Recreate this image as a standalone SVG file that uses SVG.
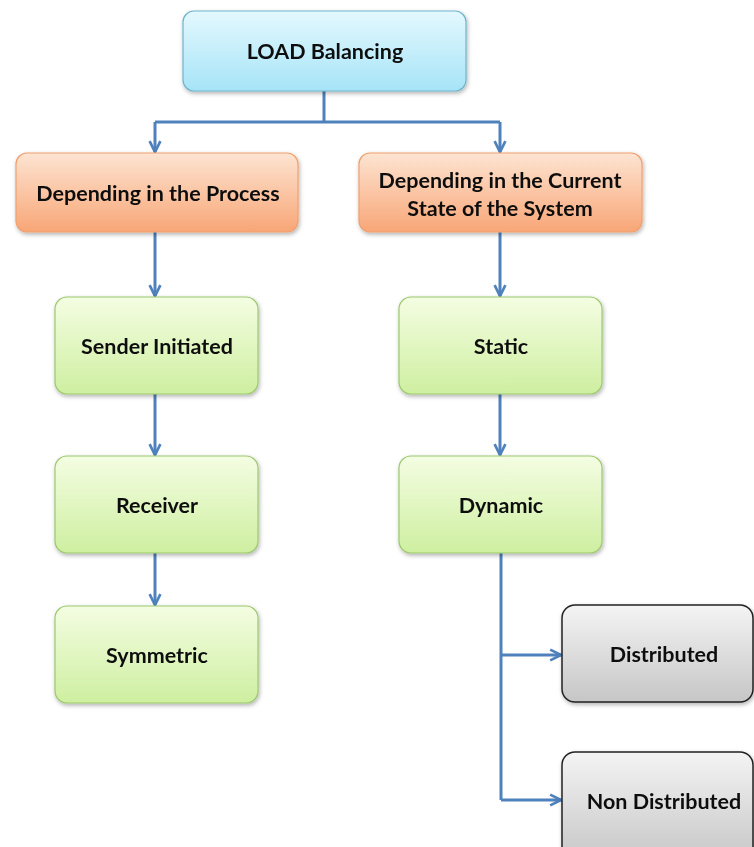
<svg xmlns="http://www.w3.org/2000/svg" width="754" height="847" viewBox="0 0 754 847">
<defs>
<style>
.t{font-family:Lato,"Open Sans","Liberation Sans",sans-serif;font-weight:bold;font-size:21.5px;fill:#111;text-anchor:middle;dominant-baseline:central}
.c{fill:none;stroke:#4f81bd;stroke-width:3}
</style>
<linearGradient id="gb" x1="0" y1="0" x2="0" y2="1"><stop offset="0" stop-color="#e4f8fe"/><stop offset="1" stop-color="#a6e4f7"/></linearGradient>
<linearGradient id="go" x1="0" y1="0" x2="0" y2="1"><stop offset="0" stop-color="#fde4d2"/><stop offset="1" stop-color="#f8a676"/></linearGradient>
<linearGradient id="gg" x1="0" y1="0" x2="0" y2="1"><stop offset="0" stop-color="#f4fde2"/><stop offset="1" stop-color="#ceefa0"/></linearGradient>
<linearGradient id="gy" x1="0" y1="0" x2="0" y2="1"><stop offset="0" stop-color="#f4f4f4"/><stop offset="1" stop-color="#c6c6c6"/></linearGradient>
<filter id="sh" x="-10%" y="-10%" width="130%" height="140%"><feDropShadow dx="1" dy="2" stdDeviation="2" flood-color="#000" flood-opacity="0.3"/></filter>
<marker id="ah" viewBox="0 0 10 10" refX="9" refY="5" markerWidth="4.5" markerHeight="4.5" orient="auto" markerUnits="strokeWidth"><path d="M1,1 L9,5 L1,9" fill="none" stroke="#4f81bd" stroke-width="2"/></marker>
</defs>
<g id="connectors">
<path class="c" d="M324,91 V122"/>
<path class="c" d="M155,122 H500"/>
<path class="c" d="M155,122 V152" marker-end="url(#ah)"/>
<path class="c" d="M500,122 V152" marker-end="url(#ah)"/>
<path class="c" d="M155,232 V296" marker-end="url(#ah)"/>
<path class="c" d="M500,232 V296" marker-end="url(#ah)"/>
<path class="c" d="M155,394 V455" marker-end="url(#ah)"/>
<path class="c" d="M500,394 V455" marker-end="url(#ah)"/>
<path class="c" d="M155,553 V605" marker-end="url(#ah)"/>
<path class="c" d="M501,553 V800"/>
<path class="c" d="M501,655 H561" marker-end="url(#ah)"/>
<path class="c" d="M501,800 H561" marker-end="url(#ah)"/>
</g>
<g id="n-load" filter="url(#sh)"><rect x="183" y="11" width="283" height="80" rx="11" fill="url(#gb)" stroke="#6fb5cc" stroke-width="1.2"/><text class="t" x="325" y="51">LOAD Balancing</text></g>
<g id="n-process" filter="url(#sh)"><rect x="16" y="153" width="282" height="79" rx="11" fill="url(#go)" stroke="#f0a06e" stroke-width="1.2"/><text class="t" x="158" y="193">Depending in the Process</text></g>
<g id="n-state" filter="url(#sh)"><rect x="359" y="153" width="283" height="79" rx="11" fill="url(#go)" stroke="#f0a06e" stroke-width="1.2"/><text class="t" x="500" y="180">Depending in the Current</text><text class="t" x="500" y="208">State of the System</text></g>
<g id="n-sender" filter="url(#sh)"><rect x="55" y="297" width="203" height="97" rx="12" fill="url(#gg)" stroke="#9cc86e" stroke-width="1.2"/><text class="t" x="157" y="346">Sender Initiated</text></g>
<g id="n-receiver" filter="url(#sh)"><rect x="55" y="456" width="203" height="97" rx="12" fill="url(#gg)" stroke="#9cc86e" stroke-width="1.2"/><text class="t" x="157" y="505">Receiver</text></g>
<g id="n-symmetric" filter="url(#sh)"><rect x="55" y="606" width="203" height="97" rx="12" fill="url(#gg)" stroke="#9cc86e" stroke-width="1.2"/><text class="t" x="157" y="655">Symmetric</text></g>
<g id="n-static" filter="url(#sh)"><rect x="399" y="297" width="203" height="97" rx="12" fill="url(#gg)" stroke="#9cc86e" stroke-width="1.2"/><text class="t" x="501" y="346">Static</text></g>
<g id="n-dynamic" filter="url(#sh)"><rect x="399" y="456" width="203" height="97" rx="12" fill="url(#gg)" stroke="#9cc86e" stroke-width="1.2"/><text class="t" x="501" y="505">Dynamic</text></g>
<g id="n-distributed" filter="url(#sh)"><rect x="562" y="605" width="191" height="97" rx="13" fill="url(#gy)" stroke="#222" stroke-width="1.5"/><text class="t" x="664" y="654">Distributed</text></g>
<g id="n-nondistributed" filter="url(#sh)"><rect x="562" y="752" width="191" height="110" rx="13" fill="url(#gy)" stroke="#222" stroke-width="1.5"/><text class="t" x="664" y="801">Non Distributed</text></g>
</svg>
